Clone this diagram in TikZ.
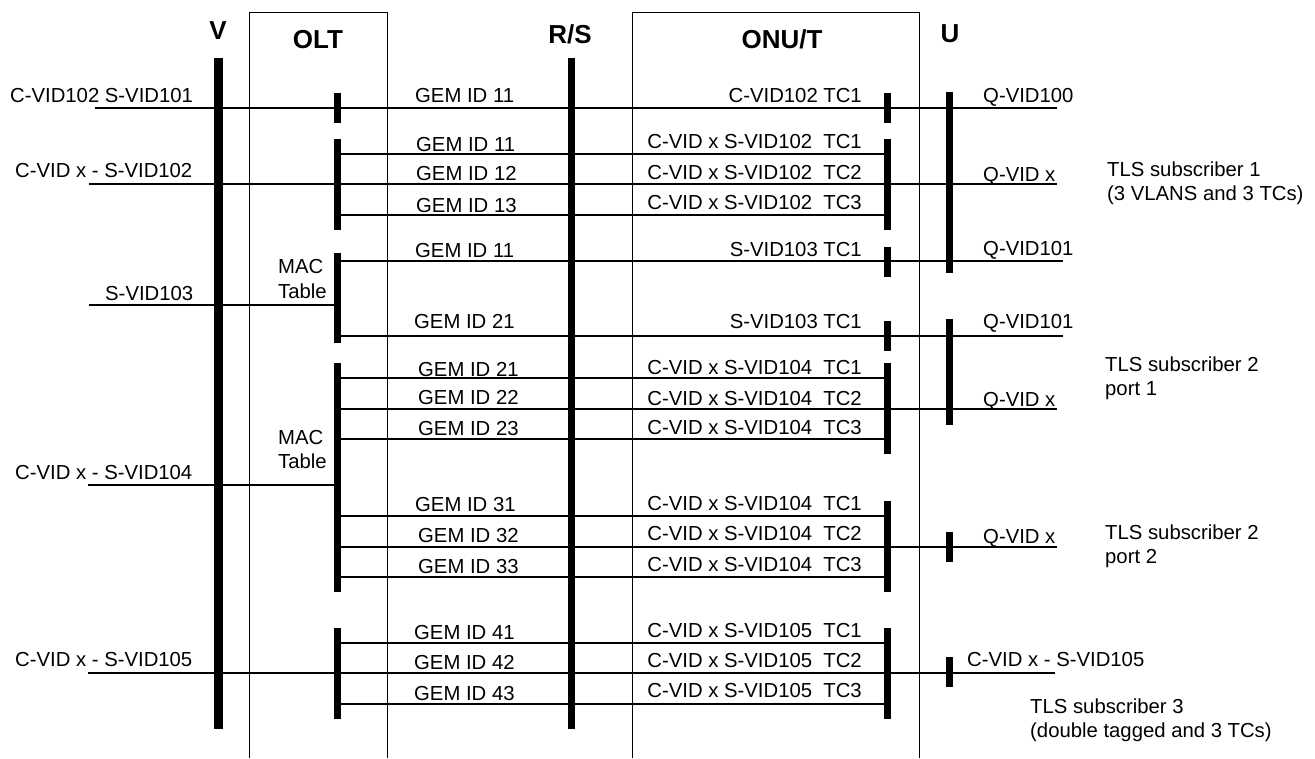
\documentclass[tikz,border=0pt]{standalone}
\usepackage{fontspec}
\setmainfont{Liberation Sans}
\begin{document}
\begin{tikzpicture}[x=1pt,y=-1pt,
  ln/.style={line width=1.3pt},
  boxline/.style={line width=0.9pt},
  bar/.style={fill=black, draw=none, inner sep=0pt, minimum width=7pt},
  lbl/.style={font=\fontsize{20.3}{24}\selectfont, inner sep=0pt},
  hdr/.style={font=\bfseries\fontsize{26}{30}\selectfont, inner sep=0pt, anchor=base}]
\useasboundingbox (0,0) rectangle (1315,758);

% boxes
\coordinate (oltBL) at (249,758); \coordinate (oltTL) at (249,12);
\coordinate (oltTR) at (387,12); \coordinate (oltBR) at (387,758);
\coordinate (onuBL) at (632,758); \coordinate (onuTL) at (632,12);
\coordinate (onuTR) at (919,12); \coordinate (onuBR) at (919,758);
\draw[boxline] (oltBL) -- (oltTL) -- (oltTR) -- (oltBR);
\draw[boxline] (onuBL) -- (onuTL) -- (onuTR) -- (onuBR);

% horizontal lines
\foreach \y/\a/\b in {108/95/1057, 154/337/887, 184/89/1057, 215/337/887,
  261/337/1063, 305/89/337, 336/337/1063, 378/337/887, 409/337/1057,
  439/337/887, 485/88/337, 516/337/887, 547/337/1057, 577/337/887,
  643/337/887, 673/88/1055, 704/337/887}{
  \coordinate (s\y) at (\a,\y);
  \coordinate (e\y) at (\b,\y);
  \draw[ln] (s\y) -- (e\y);
}

% thick bars
\node[bar, minimum width=9pt, minimum height=671pt] (Vbar) at (218,393.5) {};
\node[bar, minimum height=671pt] (RSbar) at (571,393.5) {};
\node[bar, minimum height=181pt] (U1) at (949,182.5) {};
\node[bar, minimum height=106pt] (U2) at (949,372) {};
\node[bar, minimum height=30pt] (U3) at (949,547) {};
\node[bar, minimum height=30pt] (U4) at (949,672) {};
\node[bar, minimum height=30pt] (O1) at (337,108) {};
\node[bar, minimum height=91pt] (O2) at (337,184.5) {};
\node[bar, minimum height=90pt] (O3) at (337,298) {};
\node[bar, minimum height=229pt] (O4) at (337,477.5) {};
\node[bar, minimum height=91pt] (O5) at (337,673.5) {};
\node[bar, minimum height=30pt] (N1) at (887,108) {};
\node[bar, minimum height=91pt] (N2) at (887,184.5) {};
\node[bar, minimum height=30pt] (N3) at (887,261.5) {};
\node[bar, minimum height=30pt] (N4) at (887,336) {};
\node[bar, minimum height=91pt] (N5) at (887,408.5) {};
\node[bar, minimum height=91pt] (N6) at (887,546.5) {};
\node[bar, minimum height=91pt] (N7) at (887,673.5) {};

% headers
\node[hdr] (hV) at (218,39) {V};
\node[hdr] (hOLT) at (318,48) {OLT};
\node[hdr] (hRS) at (570,43) {R/S};
\node[hdr] (hONU) at (782,48) {ONU/T};
\node[hdr] (hU) at (950,42) {U};

% left labels
\node[lbl, anchor=base west] (lA) at (10,102) {C-VID102 S-VID101};
\node[lbl, anchor=base west] (lB) at (15,177) {C-VID x - S-VID102};
\node[lbl, anchor=base west] (lC) at (105,300) {S-VID103};
\node[lbl, anchor=base west] (lD) at (15,479) {C-VID x - S-VID104};
\node[lbl, anchor=base west] (lE) at (15,666) {C-VID x - S-VID105};

% MAC table
\node[lbl, anchor=base west] (m1a) at (278,273) {MAC};
\node[lbl, anchor=base west] (m1b) at (278,298) {Table};
\node[lbl, anchor=base west] (m2a) at (278,444) {MAC};
\node[lbl, anchor=base west] (m2b) at (278,468) {Table};

% GEM labels
\foreach \n/\x/\y/\t in {g1/415/102/11, g2/416/151/11, g3/416/180/12, g4/416/212/13,
  g5/415/257/11, g6/414/328/21, g7/418/376/21, g8/418/404/22, g9/418/435/23,
  g10/415/511/31, g11/418/542/32, g12/418/573/33,
  g13/414/639/41, g14/414/669/42, g15/414/700/43}{
  \node[lbl, anchor=base west] (\n) at (\x,\y) {GEM ID \t};
}

% ONU labels
\node[lbl, anchor=base east] (c1) at (862,102) {C-VID102 TC1};
\foreach \n/\y/\s/\t in {c2/148/102/1, c3/179/102/2, c4/209/102/3,
  c7/374/104/1, c8/405/104/2, c9/434/104/3,
  c10/510/104/1, c11/540/104/2, c12/571/104/3,
  c13/637/105/1, c14/667/105/2, c15/697/105/3}{
  \node[lbl, anchor=base east] (\n) at (862,\y) {C-VID x S-VID\s~~TC\t};
}
\node[lbl, anchor=base east] (c5) at (862,256) {S-VID103 TC1};
\node[lbl, anchor=base east] (c6) at (862,328) {S-VID103 TC1};

% U side labels
\node[lbl, anchor=base west] (q1) at (983,102) {Q-VID100};
\node[lbl, anchor=base west] (q2) at (983,181) {Q-VID x};
\node[lbl, anchor=base west] (q3) at (983,255) {Q-VID101};
\node[lbl, anchor=base west] (q4) at (983,328) {Q-VID101};
\node[lbl, anchor=base west] (q5) at (983,406) {Q-VID x};
\node[lbl, anchor=base west] (q6) at (983,543) {Q-VID x};
\node[lbl, anchor=base west] (q7) at (967,666) {C-VID x - S-VID105};

% TLS subscribers
\node[lbl, anchor=base west] (t1a) at (1107,176) {TLS subscriber 1};
\node[lbl, anchor=base west] (t1b) at (1107,200) {(3 VLANS and 3 TCs)};
\node[lbl, anchor=base west] (t2a) at (1105,371) {TLS subscriber 2};
\node[lbl, anchor=base west] (t2b) at (1105,395) {port 1};
\node[lbl, anchor=base west] (t3a) at (1105,539) {TLS subscriber 2};
\node[lbl, anchor=base west] (t3b) at (1105,563) {port 2};
\node[lbl, anchor=base west] (t4a) at (1030,713) {TLS subscriber 3};
\node[lbl, anchor=base west] (t4b) at (1030,737) {(double tagged and 3 TCs)};
\end{tikzpicture}
\end{document}
